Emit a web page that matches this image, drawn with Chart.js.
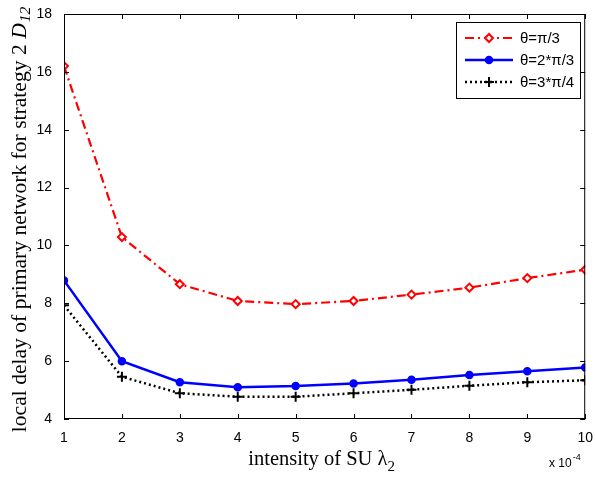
<!DOCTYPE html>
<html><head><meta charset="utf-8">
<script src="https://cdn.jsdelivr.net/npm/chart.js@4"></script>
<style>html,body{margin:0;padding:0;background:#fff}#wrap{width:596px;height:479px}</style>
</head><body><div id="wrap"><canvas id="c" width="596" height="479"></canvas></div>
<script>
const xValues = [1,2,3,4,5,6,7,8,9,10];
const seriesPi3 = [16.2,10.29,8.66,8.08,7.97,8.08,8.3,8.54,8.87,9.16];
const series2Pi3 = [8.79,6.0,5.27,5.1,5.14,5.23,5.36,5.52,5.65,5.78];
const series3Pi4 = [7.93,5.46,4.89,4.77,4.77,4.89,5.01,5.15,5.27,5.34];
const legendLabels = ['θ=π/3','θ=2*π/3','θ=3*π/4'];
const xTitle = 'intensity of SU λ';
const xTitleSub = '2';
const yTitle = 'local delay of primary network for strategy 2 ';
const yTitleVar = 'D';
const yTitleSub = '12';

const toPts = arr => arr.map((v,i)=>({x:xValues[i],y:v}));

const framePlugin = {
  id:'frame',
  afterDraw(chart){
    const {ctx, chartArea:a, scales} = chart;
    ctx.save();
    ctx.strokeStyle='#000'; ctx.lineWidth=1;
    ctx.strokeRect(a.left+0.5,a.top+0.5,a.right-a.left-1,a.bottom-a.top-1);
    const L=5;
    ctx.beginPath();
    scales.x.ticks.forEach(t=>{
      const px=Math.round(scales.x.getPixelForValue(t.value))+0.5;
      ctx.moveTo(px,a.bottom); ctx.lineTo(px,a.bottom-L);
      ctx.moveTo(px,a.top); ctx.lineTo(px,a.top+L);
    });
    scales.y.ticks.forEach(t=>{
      const py=Math.round(scales.y.getPixelForValue(t.value))+0.5;
      ctx.moveTo(a.left,py); ctx.lineTo(a.left+L,py);
      ctx.moveTo(a.right,py); ctx.lineTo(a.right-L,py);
    });
    ctx.stroke();

    // x title
    ctx.fillStyle='#000';
    ctx.textBaseline='alphabetic';
    ctx.textAlign='left';
    ctx.font='20.5px "Liberation Serif"';
    const w1=ctx.measureText(xTitle).width;
    ctx.font='15px "Liberation Serif"';
    const w2=ctx.measureText(xTitleSub).width;
    const cx=(a.left+a.right)/2;
    let sx=cx-(w1+w2)/2 - 3;
    ctx.font='20.5px "Liberation Serif"';
    ctx.fillText(xTitle,sx,465);
    ctx.font='15px "Liberation Serif"';
    ctx.fillText(xTitleSub,sx+w1,471);

    // exponent
    ctx.font='12px "Liberation Sans"';
    ctx.fillText('x 10',549,467);
    const we=ctx.measureText('x 10').width;
    ctx.font='9px "Liberation Sans"';
    ctx.fillText('-4',549+we+1,460);

    // y title
    ctx.save();
    ctx.translate(26,220);
    ctx.rotate(-Math.PI/2);
    ctx.font='21.6px "Liberation Serif"';
    const t1=ctx.measureText(yTitle).width;
    ctx.font='italic 21.6px "Liberation Serif"';
    const t2=ctx.measureText(yTitleVar).width;
    ctx.font='italic 15.5px "Liberation Serif"';
    const t3=ctx.measureText(yTitleSub).width;
    let ty=-(t1+t2+t3)/2;
    ctx.font='21.6px "Liberation Serif"';
    ctx.fillText(yTitle,ty,0);
    ctx.font='italic 21.6px "Liberation Serif"';
    ctx.fillText(yTitleVar,ty+t1,0);
    ctx.font='italic 15.5px "Liberation Serif"';
    ctx.fillText(yTitleSub,ty+t1+t2+1,4);
    ctx.restore();

    // legend
    const lx=456, ly=22, lw=124, lh=76;
    ctx.fillStyle='#fff';
    ctx.fillRect(lx,ly,lw,lh);
    ctx.strokeStyle='#000'; ctx.lineWidth=1;
    ctx.strokeRect(lx+0.5,ly+0.5,lw,lh);
    const rows=[38,60,82];
    chart.data.datasets.forEach((ds,i)=>{
      const y=rows[i];
      ctx.save();
      ctx.strokeStyle=ds.borderColor; ctx.lineWidth=ds.borderWidth;
      ctx.setLineDash(ds.borderDash||[]);
      ctx.beginPath(); ctx.moveTo(465,y); ctx.lineTo(513,y); ctx.stroke();
      ctx.setLineDash([]);
      ctx.fillStyle=ds.pointBackgroundColor; ctx.strokeStyle=ds.pointBorderColor; ctx.lineWidth=ds.pointBorderWidth;
      Chart.helpers.drawPoint(ctx,{pointStyle:ds.pointStyle,radius:ds.pointRadius,borderWidth:ds.pointBorderWidth,rotation:0},489,y);
      ctx.restore();
      ctx.fillStyle='#000';
      ctx.font='15px "Liberation Sans"';
      ctx.textBaseline='middle';
      ctx.fillText(ds.label,520,y+1);
    });
    ctx.restore();
  }
};

new Chart(document.getElementById('c'),{
  type:'line',
  data:{datasets:[
    {label:legendLabels[0],data:toPts(seriesPi3),borderColor:'#ff0000',borderWidth:2.2,borderDash:[9,4,2,4],
     pointStyle:'rectRot',pointRadius:4,pointBackgroundColor:'#ffffff',pointBorderColor:'#ff0000',pointBorderWidth:2,tension:0},
    {label:legendLabels[1],data:toPts(series2Pi3),borderColor:'#0000ff',borderWidth:2.5,
     pointStyle:'circle',pointRadius:3.5,pointBackgroundColor:'#0000ff',pointBorderColor:'#0000ff',pointBorderWidth:1.5,tension:0},
    {label:legendLabels[2],data:toPts(series3Pi4),borderColor:'#000000',borderWidth:2.5,borderDash:[2,3],
     pointStyle:'cross',pointRadius:5,pointBackgroundColor:'#000000',pointBorderColor:'#000000',pointBorderWidth:2,tension:0}
  ]},
  options:{
    responsive:false,animation:false,devicePixelRatio:1,
    layout:{padding:{top:14,right:10,left:0,bottom:0}},
    plugins:{legend:{display:false},tooltip:{enabled:false}},
    scales:{
      x:{type:'linear',min:1,max:10,
         ticks:{stepSize:1,color:'#000',font:{family:'Liberation Sans',size:14},padding:3,maxRotation:0},
         grid:{display:false},border:{display:false},
         afterFit(s){s.height=60;}},
      y:{type:'linear',min:4,max:18,
         ticks:{stepSize:2,color:'#000',font:{family:'Liberation Sans',size:14},padding:4},
         grid:{display:false},border:{display:false},
         afterFit(s){s.width=64;}}
    }
  },
  plugins:[framePlugin]
});
</script></body></html>
